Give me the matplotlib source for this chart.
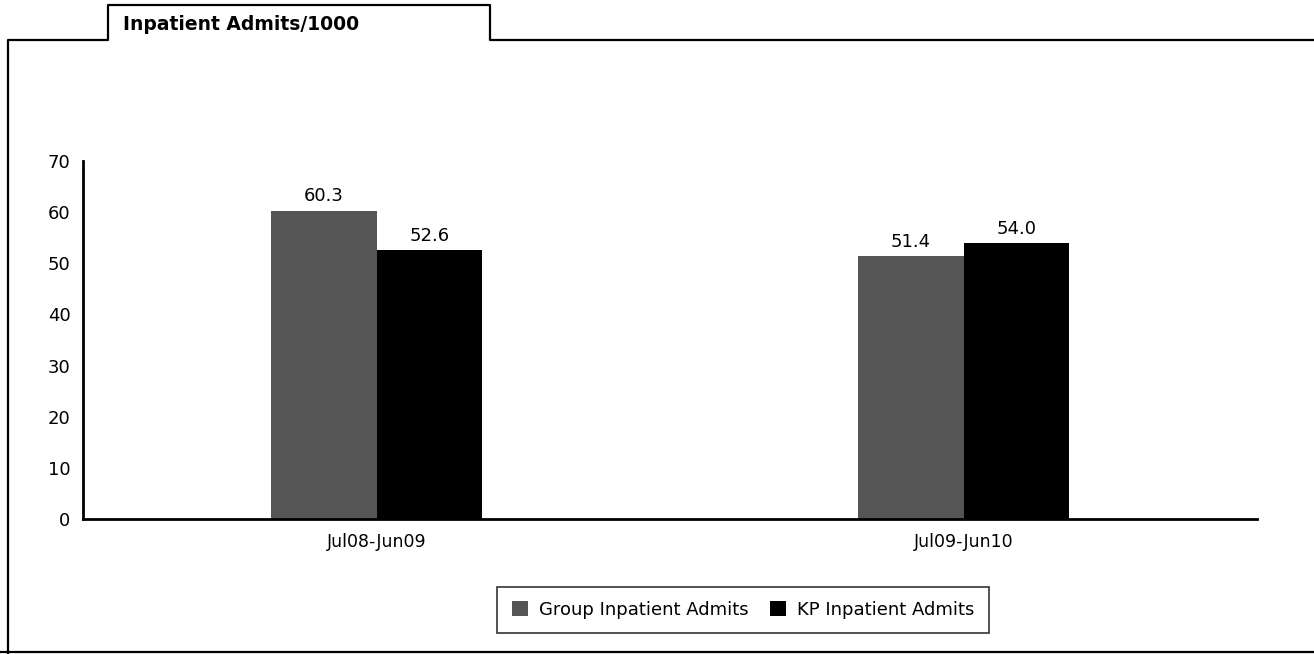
import matplotlib
matplotlib.use("Agg")
import matplotlib.pyplot as plt
from matplotlib.lines import Line2D
import numpy as np

periods = ["Jul08-Jun09", "Jul09-Jun10"]
group_admits = [60.3, 51.4]
kp_admits = [52.6, 54.0]
series_names = ["Group Inpatient Admits", "KP Inpatient Admits"]
title = "Inpatient Admits/1000"

W, H = 1314, 654
fig = plt.figure(figsize=(W / 100, H / 100), dpi=100)
fig.patch.set_facecolor("white")

# outer frame with the tab, in pixel coords turned into figure fractions
def fx(px):
    return px / W

def fy(py):
    return 1 - py / H

frame = [(8, 654), (8, 40), (108, 40), (108, 5), (490, 5), (490, 40), (1314, 40)]
fig.add_artist(Line2D([fx(p[0]) for p in frame], [fy(p[1]) for p in frame],
                      color="black", lw=1.6, transform=fig.transFigure))
fig.add_artist(Line2D([fx(0), fx(1314)], [fy(652), fy(652)],
                      color="black", lw=1.6, transform=fig.transFigure))
fig.text(fx(123), fy(25), title, fontsize=13.5, fontweight="bold",
         va="center", ha="left")

ax = fig.add_axes([fx(83), fy(519), fx(1257) - fx(83), fy(161) - fy(519)])
x = np.arange(len(periods))
w = 0.18
b1 = ax.bar(x - w / 2, group_admits, w, color="#555555", label=series_names[0])
b2 = ax.bar(x + w / 2, kp_admits, w, color="black", label=series_names[1])

for bars, vals in ((b1, group_admits), (b2, kp_admits)):
    for r, v in zip(bars, vals):
        ax.text(r.get_x() + r.get_width() / 2, v + 1.0, "%.1f" % v,
                ha="center", va="bottom", fontsize=13)

ax.set_xlim(-0.5, 1.5)
ax.set_ylim(0, 70)
ax.set_yticks(range(0, 71, 10))
ax.set_xticks(x)
ax.set_xticklabels(periods, fontsize=12.5)
ax.tick_params(axis="y", length=0, labelsize=13, pad=9)
ax.tick_params(axis="x", length=0, pad=10)
for s in ("top", "right"):
    ax.spines[s].set_visible(False)
for s in ("left", "bottom"):
    ax.spines[s].set_linewidth(2)

leg = fig.legend(handles=[b1, b2], labels=series_names, loc="center",
                 bbox_to_anchor=(fx(743), fy(610)), ncol=2, fontsize=13,
                 frameon=True, fancybox=False, edgecolor="black",
                 handlelength=0.9, handleheight=0.9, columnspacing=1.2,
                 borderpad=0.8, handletextpad=0.6)
leg.get_frame().set_linewidth(1.2)

fig.savefig("out.png", dpi=100)
